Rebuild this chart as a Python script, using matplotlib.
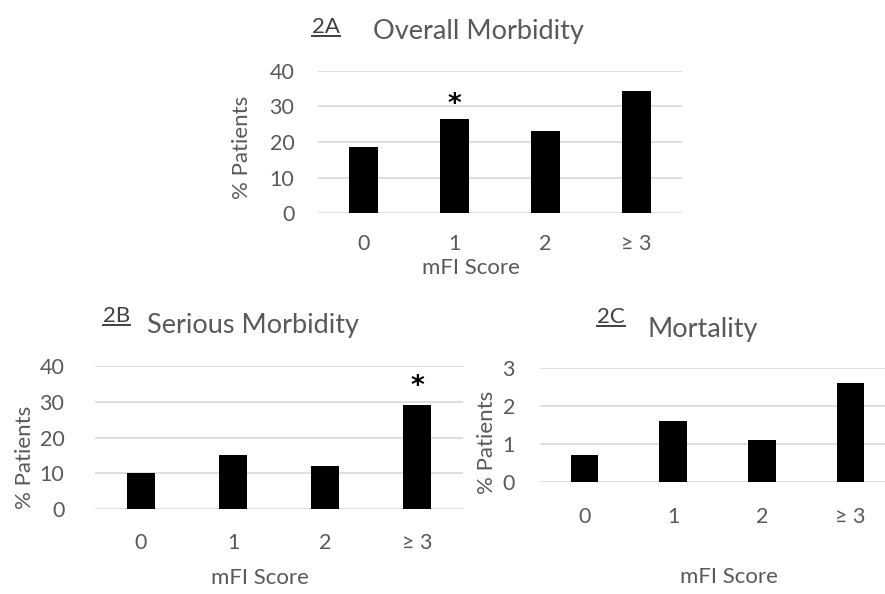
import numpy as np
import matplotlib
matplotlib.use("Agg")
import matplotlib.pyplot as plt
from matplotlib.lines import Line2D

plt.rcParams["font.family"] = ["Lato", "DejaVu Sans"]

# data
categories = ["0", "1", "2", "\u2265 3"]
overall_morbidity = [18.5, 26.6, 23.1, 34.5]
serious_morbidity = [10.0, 15.2, 12.1, 29.1]
mortality = [0.7, 1.6, 1.1, 2.6]
stars_a = [1]   # index of bars marked significant
stars_b = [3]
stars_c = []

W, H = 885, 594
GREY = "#595959"
GRID = "#d9d9d9"
TICK_FS = 15.5
LAB_FS = 16
TITLE_FS = 19.5


def px(x, y):
    # pixel position (from top-left) -> figure fraction
    return x / W, 1 - y / H


def panel(rect, values, ymax, ystep, stars, star_pad, ypad, xpad):
    l, t, r, b = rect
    ax = fig.add_axes([l / W, 1 - b / H, (r - l) / W, (b - t) / H])
    x = np.arange(len(categories))
    ax.bar(x, values, width=0.31, color="black", zorder=3)
    ax.set_xlim(-0.5, len(categories) - 0.5)
    ax.set_ylim(0, ymax)
    ax.set_yticks(np.arange(0, ymax + 0.01, ystep))
    ax.set_xticks(x)
    ax.set_xticklabels(categories)
    ax.yaxis.grid(True, color=GRID, linewidth=1.2, zorder=0)
    for s in ax.spines.values():
        s.set_visible(False)
    ax.tick_params(axis="y", length=0, pad=ypad, labelsize=TICK_FS, labelcolor=GREY)
    ax.tick_params(axis="x", length=0, pad=xpad, labelsize=TICK_FS, labelcolor=GREY)
    for i in stars:
        ax.annotate("*", (x[i], values[i]), xytext=(0, star_pad),
                    textcoords="offset points", ha="center", va="center",
                    fontsize=19, fontweight="bold", color="black",
                    family="DejaVu Sans")
    return ax


def label_text(x, y, s):
    # panel tag, underlined
    t = fig.text(*px(x, y), s, ha="left", va="baseline",
                 fontsize=16, color="#404040")
    fig.canvas.draw()
    bb = t.get_window_extent()
    yl = 1 - (y + 3) / H
    fig.add_artist(Line2D([bb.x0 / W, bb.x1 / W], [yl, yl],
                          color="#404040", linewidth=1.4))


fig = plt.figure(figsize=(W / 100, H / 100), dpi=100)

# 2A
panel((318, 71, 682, 213), overall_morbidity, 40, 10, stars_a, 10, 17, 15)
fig.text(*px(242, 147), "% Patients", rotation=90, ha="center", va="center",
         fontsize=LAB_FS, color=GREY)
fig.text(*px(471, 268), "mFI Score", ha="center", va="center",
         fontsize=LAB_FS, color=GREY)
label_text(312, 33, "2A")
fig.text(*px(373, 39), "Overall Morbidity", ha="left", va="baseline",
         fontsize=TITLE_FS, color=GREY)

# 2B
panel((95, 366, 463, 509), serious_morbidity, 40, 10, stars_b, 13, 22, 17)
fig.text(*px(25, 457), "% Patients", rotation=90, ha="center", va="center",
         fontsize=LAB_FS, color=GREY)
fig.text(*px(260, 578), "mFI Score", ha="center", va="center",
         fontsize=LAB_FS, color=GREY)
label_text(103, 322, "2B")
fig.text(*px(147, 333), "Serious Morbidity", ha="left", va="baseline",
         fontsize=TITLE_FS, color=GREY)

# 2C
panel((540, 368, 895, 482), mortality, 3, 1, stars_c, 0, 18, 18)
fig.text(*px(487, 442), "% Patients", rotation=90, ha="center", va="center",
         fontsize=LAB_FS, color=GREY)
fig.text(*px(729, 577), "mFI Score", ha="center", va="center",
         fontsize=LAB_FS, color=GREY)
label_text(597, 323, "2C")
fig.text(*px(647, 337), "Mortality", ha="left", va="baseline",
         fontsize=TITLE_FS, color=GREY)

fig.savefig("out.png", dpi=100, facecolor="white")
